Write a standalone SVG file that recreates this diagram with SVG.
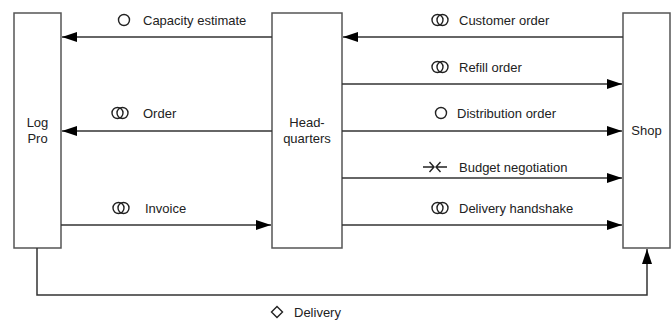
<svg xmlns="http://www.w3.org/2000/svg" width="672" height="320" viewBox="0 0 672 320">
<defs>
<style>
.box{fill:#fff;stroke:#555;stroke-width:1.5}
.ln{fill:none;stroke:#333;stroke-width:1.5}
.t{font-family:"Liberation Sans",Arial,sans-serif;font-size:13px;fill:#222}
.sym{fill:none;stroke:#222;stroke-width:1.4}
</style>
<marker id="ah" markerWidth="15" markerHeight="10" refX="15" refY="5" orient="auto" markerUnits="userSpaceOnUse">
<path d="M0,0 L15,5 L0,10 Z" fill="#000"/>
</marker>
<g id="dbl"><circle cx="-2.5" cy="0" r="5.5"/><circle cx="2.5" cy="0" r="5.5"/></g>
</defs>
<rect width="672" height="320" fill="#fff"/>
<g id="logpro">
<rect class="box" x="14" y="13" width="47" height="235"/>
<text class="t" x="37.5" y="127" text-anchor="middle">Log</text>
<text class="t" x="37.5" y="143" text-anchor="middle">Pro</text>
</g>
<g id="headquarters">
<rect class="box" x="272" y="13" width="70" height="235"/>
<text class="t" x="307" y="127" text-anchor="middle">Head-</text>
<text class="t" x="307" y="143" text-anchor="middle">quarters</text>
</g>
<g id="shop">
<rect class="box" x="623" y="13" width="47" height="235"/>
<text class="t" x="646.5" y="135" text-anchor="middle">Shop</text>
</g>
<g id="connectors">
<line class="ln" x1="272" y1="37" x2="62" y2="37" marker-end="url(#ah)"/>
<line class="ln" x1="272" y1="131" x2="62" y2="131" marker-end="url(#ah)"/>
<line class="ln" x1="61" y1="225" x2="271" y2="225" marker-end="url(#ah)"/>
<line class="ln" x1="623" y1="37" x2="343" y2="37" marker-end="url(#ah)"/>
<line class="ln" x1="342" y1="84" x2="622" y2="84" marker-end="url(#ah)"/>
<line class="ln" x1="342" y1="131" x2="622" y2="131" marker-end="url(#ah)"/>
<line class="ln" x1="342" y1="178" x2="622" y2="178" marker-end="url(#ah)"/>
<line class="ln" x1="342" y1="225" x2="622" y2="225" marker-end="url(#ah)"/>
<polyline class="ln" points="37,248 37,295 647,295 647,249" marker-end="url(#ah)"/>
</g>
<g id="labels">
<circle class="sym" cx="124" cy="20" r="5.5"/>
<text class="t" x="143" y="24.5">Capacity estimate</text>
<use href="#dbl" class="sym" x="120" y="113"/>
<text class="t" x="143" y="117.5">Order</text>
<use href="#dbl" class="sym" x="121" y="208"/>
<text class="t" x="145" y="212.5">Invoice</text>
<use href="#dbl" class="sym" x="440" y="20"/>
<text class="t" x="459" y="24.5">Customer order</text>
<use href="#dbl" class="sym" x="440" y="67"/>
<text class="t" x="459" y="71.5">Refill order</text>
<circle class="sym" cx="441" cy="113" r="5.5"/>
<text class="t" x="457" y="117.5">Distribution order</text>
<path class="sym" d="M423,167 H434 M429.5,162 L434,167 L429.5,172 M447,167 H436 M440.5,162 L436,167 L440.5,172"/>
<text class="t" x="459" y="171.5">Budget negotiation</text>
<use href="#dbl" class="sym" x="440" y="208"/>
<text class="t" x="459" y="212.5">Delivery handshake</text>
<path class="sym" d="M277,306.5 L282.5,312 L277,317.5 L271.5,312 Z"/>
<text class="t" x="294" y="316.5">Delivery</text>
</g>
</svg>
